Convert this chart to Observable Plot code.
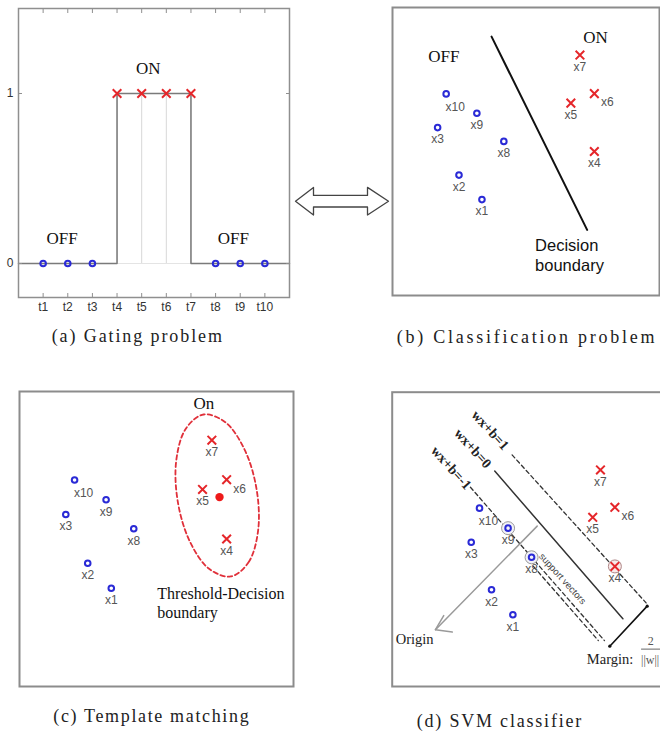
<!DOCTYPE html>
<html><head><meta charset="utf-8">
<script src="https://cdn.jsdelivr.net/npm/d3@7"></script>
<script src="https://cdn.jsdelivr.net/npm/@observablehq/plot@0.6"></script>
<style>
html,body{margin:0;padding:0;background:#fff;overflow:hidden;}
#fig{position:relative;width:660px;height:735px;overflow:hidden;background:#fff;}
.cap{position:absolute;font-family:"Liberation Serif",serif;font-size:18px;line-height:18px;color:#222;white-space:nowrap;}
</style></head><body><div id="fig"></div>
<script>
// ---------- data ----------
// (a) gating problem
const gateTimes = [1,2,3,4,5,6,7,8,9,10];
const gateStates = [0,0,0,1,1,1,1,0,0,0];
const gateTickLabels = ["t1","t2","t3","t4","t5","t6","t7","t8","t9","t10"];
const gateStateTicks = [0,1];
const gateStateLabels = ["0","1"];
const gateSignalT = [0,4,4,7,7,11];
const gateSignalV = [0,0,1,1,0,0];
const gateNoteText = ["OFF","ON","OFF"];
const gateNoteT = [1.77,5.27,8.72];
const gateNoteV = [0.147,1.147,0.147];

// feature-space samples (b, c)
const pointNames = ["x1","x2","x3","x4","x5","x6","x7","x8","x9","x10"];
const pointClass = ["OFF","OFF","OFF","ON","ON","ON","ON","OFF","OFF","OFF"];
const featX = [3.35,2.49,1.69,7.56,6.68,7.56,7.02,4.17,3.16,2.01];
const featY = [3.33,4.18,5.83,5.00,6.68,7.01,8.35,5.35,6.33,7.00];
const labelSide = ["below","below","below","below","below","right","below","below","below","belowright"];

// (b) classification
const boundaryX = [3.71,7.29];
const boundaryY = [8.99,2.28];
const classNoteText = ["OFF","ON"];
const classNoteX = [1.92,7.60];
const classNoteY = [8.30,8.96];
const boundaryText = ["Decision","boundary"];
const boundaryTextX = [5.34,5.34];
const boundaryTextY = [1.74,1.04];

// (c) template matching
const ellipseX = [7.71,8.36,8.71,8.65,8.21,7.51,6.72,6.07,5.72,5.78,6.22,6.92];
const ellipseY = [3.73,4.21,5.30,6.70,8.04,8.96,9.22,8.74,7.65,6.25,4.91,3.99];
const templateX = [7.30];
const templateY = [6.42];
const templText = ["On","Threshold-Decision","boundary"];
const templTextX = [6.73,5.03,5.03];
const templTextY = [9.60,3.14,2.50];

// (d) SVM classifier
const svmX = [4.52,3.72,2.96,8.34,7.51,8.34,7.80,5.22,4.34,3.27];
const svmY = [2.44,3.29,4.90,4.08,5.75,6.09,7.36,4.39,5.38,6.06];
const supportVectors = ["x4","x8","x9"];
const planeNames = ["wx+b=0","wx+b=1","wx+b=-1","sv"];
const planeX1 = [3.84,4.49,2.93,5.29];
const planeY1 = [7.32,7.87,6.77,4.08];
const planeX2 = [8.64,9.51,7.95,7.72];
const planeY2 = [2.30,2.84,1.56,1.56];
const planeLabelX = [3.02,3.67,2.21];
const planeLabelY = [8.09,8.71,7.43];
const originX = [5.43,1.62];
const originY = [5.45,1.93];
const originHeadX = [1.93,1.62,2.25];
const originHeadY = [2.41,1.93,1.85];
const marginX = [9.55,8.15];
const marginY = [2.73,1.37];
const svmNoteText = ["support vectors","Origin","Margin:","2","||w||"];
const svmNoteX = [6.38,0.84,8.16,9.68,9.66];
const svmNoteY = [3.66,1.59,0.92,1.53,0.90];
const fracBarX = [9.34,10.5];
const fracBarY = 1.27;

// double arrow outline
const arrowX = [0,18,18,72,72,93,72,72,18,18];
const arrowY = [0,13.8,5.8,5.8,13.8,0,-13.8,-5.8,-5.8,-13.8];

const captions = ["(a) Gating problem","(b) Classification problem","(c) Template matching","(d) SVM classifier"];

// ---------- style ----------
const BLUE = "#2a2ad6", RED = "#e5262a";
const SERIF = "Liberation Serif, Times New Roman, serif";
const SANS = "Liberation Sans, Arial, sans-serif";
const fig = document.getElementById("fig");
function place(svg, left, top) {
  svg.style.position = "absolute";
  svg.style.left = left + "px";
  svg.style.top = top + "px";
  svg.style.maxWidth = "none";
  fig.appendChild(svg);
}
const baseStyle = {background: "none", fontFamily: SANS, overflow: "visible", color: "#222"};

// ---------- (a) ----------
const gate = gateTimes.map((t, i) => ({t, v: gateStates[i], label: gateTickLabels[i]}));
const signal = gateSignalT.map((t, i) => ({t, v: gateSignalV[i]}));
const gateNotes = gateNoteText.map((s, i) => ({s, t: gateNoteT[i], v: gateNoteV[i]}));
const plotA = Plot.plot({
  width: 300, height: 330, marginLeft: 18, marginRight: 11, marginTop: 8, marginBottom: 33,
  x: {domain: [0, 11], axis: null}, y: {domain: [-0.2, 1.5], axis: null},
  style: baseStyle,
  marks: [
    Plot.ruleX(gate.filter(d => d.v === 1), {x: "t", y1: 0, y2: "v", stroke: "#d8d8d8", strokeWidth: 1}),
    Plot.ruleY([0], {x1: 4, x2: 7, stroke: "#e4e4e4", strokeWidth: 1}),
    Plot.line(signal, {x: "t", y: "v", stroke: "#7a7a7a", strokeWidth: 1.5}),
    Plot.frame({stroke: "#8f8f8f", strokeWidth: 1.5}),
    Plot.axisX({anchor: "bottom", ticks: gateTimes, tickSize: -4, fill: "none", stroke: "#8f8f8f", label: null}),
    Plot.axisX({anchor: "top", ticks: gateTimes, tickSize: -4, fill: "none", stroke: "#8f8f8f", label: null}),
    Plot.axisY({anchor: "left", ticks: gateStateTicks, tickSize: -4, fill: "none", stroke: "#8f8f8f", label: null}),
    Plot.axisY({anchor: "right", ticks: gateStateTicks, tickSize: -4, fill: "none", stroke: "#8f8f8f", label: null}),
    Plot.axisX({anchor: "bottom", ticks: gateTimes, tickSize: 0, tickPadding: 5, fontSize: 12, fill: "#333",
      tickFormat: d => gateTickLabels[gateTimes.indexOf(d)], label: null}),
    Plot.axisY({anchor: "left", ticks: gateStateTicks, tickSize: 0, tickPadding: 5, fontSize: 12, fill: "#333",
      tickFormat: d => gateStateLabels[gateStateTicks.indexOf(d)], label: null}),
    Plot.dot(gate.filter(d => d.v === 0), {x: "t", y: "v", symbol: "circle", r: 2.8, stroke: BLUE, strokeWidth: 2, fill: "none"}),
    Plot.dot(gate.filter(d => d.v === 1), {x: "t", y: "v", symbol: "times", r: 4, stroke: RED, strokeWidth: 2}),
    Plot.text(gateNotes, {x: "t", y: "v", text: "s", fontFamily: SERIF, fontSize: 17, fill: "#111"})
  ]
});
place(plotA, 0, 0);

// shared point builders
function pointsOf(xs, ys) {
  return pointNames.map((name, i) => ({name, cls: pointClass[i], x: xs[i], y: ys[i], side: labelSide[i]}));
}
function pointMarks(pts) {
  const lab = {x: "x", y: "y", text: "name", fontSize: 12, fill: "#555", fontFamily: SANS};
  return [
    Plot.dot(pts.filter(d => d.cls === "OFF"), {x: "x", y: "y", symbol: "circle", r: 2.8, stroke: BLUE, strokeWidth: 2, fill: "none"}),
    Plot.dot(pts.filter(d => d.cls === "ON"), {x: "x", y: "y", symbol: "times", r: 4, stroke: RED, strokeWidth: 2}),
    Plot.text(pts.filter(d => d.side === "below"), {...lab, dy: 12}),
    Plot.text(pts.filter(d => d.side === "right"), {...lab, dx: 13, dy: 9}),
    Plot.text(pts.filter(d => d.side === "belowright"), {...lab, dx: 9, dy: 13})
  ];
}

// ---------- (b) ----------
const ptsB = pointsOf(featX, featY);
const boundary = boundaryX.map((x, i) => ({x, y: boundaryY[i]}));
const classNotes = classNoteText.map((s, i) => ({s, x: classNoteX[i], y: classNoteY[i]}));
const bNotes = boundaryText.map((s, i) => ({s, x: boundaryTextX[i], y: boundaryTextY[i]}));
const plotB = Plot.plot({
  width: 280, height: 320, marginLeft: 12, marginRight: 1, marginTop: 7, marginBottom: 25,
  x: {domain: [0, 10], axis: null}, y: {domain: [0, 10], axis: null},
  style: baseStyle,
  marks: [
    Plot.frame({stroke: "#8c8c8c", strokeWidth: 2}),
    Plot.line(boundary, {x: "x", y: "y", stroke: "#111", strokeWidth: 2}),
    ...pointMarks(ptsB),
    Plot.text(classNotes, {x: "x", y: "y", text: "s", fontFamily: SERIF, fontSize: 17, fill: "#111"}),
    Plot.text(bNotes, {x: "x", y: "y", text: "s", fontFamily: SANS, fontSize: 16.5, fill: "#111", textAnchor: "start"})
  ]
});
place(plotB, 380, 0);

// ---------- (c) ----------
const ptsC = pointsOf(featX, featY);
const ellipse = ellipseX.map((x, i) => ({x, y: ellipseY[i]}));
const template = templateX.map((x, i) => ({x, y: templateY[i]}));
const templNotes = templText.map((s, i) => ({s, x: templTextX[i], y: templTextY[i]}));
const plotC = Plot.plot({
  width: 330, height: 340, marginLeft: 19, marginRight: 37, marginTop: 31, marginBottom: 14,
  x: {domain: [0, 10], axis: null}, y: {domain: [0, 10], axis: null},
  style: baseStyle,
  marks: [
    Plot.frame({stroke: "#8c8c8c", strokeWidth: 2}),
    Plot.line(ellipse, {x: "x", y: "y", curve: "catmull-rom-closed", stroke: "#e0303a", strokeWidth: 1.8, strokeDasharray: "4.5,3"}),
    ...pointMarks(ptsC),
    Plot.dot(template, {x: "x", y: "y", r: 4.2, fill: "#ee1a1a"}),
    Plot.text(templNotes.slice(0, 1), {x: "x", y: "y", text: "s", fontFamily: SERIF, fontSize: 17, fill: "#111"}),
    Plot.text(templNotes.slice(1), {x: "x", y: "y", text: "s", fontFamily: SERIF, fontSize: 16, fill: "#111", textAnchor: "start"})
  ]
});
place(plotC, 0, 360);

// ---------- (d) ----------
const ptsD = pointsOf(svmX, svmY);
const planes = [];
planeNames.forEach((p, i) => {
  planes.push({p, x: planeX1[i], y: planeY1[i]});
  planes.push({p, x: planeX2[i], y: planeY2[i]});
});
const planeLabels = planeNames.slice(0, 3).map((p, i) => ({p, x: planeLabelX[i], y: planeLabelY[i]}));
const originLine = originX.map((x, i) => ({x, y: originY[i]}));
const originHead = originHeadX.map((x, i) => ({x, y: originHeadY[i]}));
const marginLine = marginX.map((x, i) => ({x, y: marginY[i]}));
const svmNotes = svmNoteText.map((s, i) => ({s, x: svmNoteX[i], y: svmNoteY[i]}));
const sv = ptsD.filter(d => supportVectors.includes(d.name));
const plotD = Plot.plot({
  width: 300, height: 360, marginLeft: 11.7, marginRight: 7.95, marginTop: 31.7, marginBottom: 34,
  x: {domain: [0, 10.5], axis: null}, y: {domain: [0, 10], axis: null},
  style: baseStyle,
  marks: [
    Plot.frame({stroke: "#8c8c8c", strokeWidth: 2}),
    Plot.line(originLine, {x: "x", y: "y", stroke: "#9a9a9a", strokeWidth: 1.5}),
    Plot.line(originHead, {x: "x", y: "y", stroke: "#9a9a9a", strokeWidth: 1.5}),
    Plot.line(planes.filter(d => d.p === "wx+b=0"), {x: "x", y: "y", stroke: "#333", strokeWidth: 1.5}),
    Plot.line(planes.filter(d => d.p !== "wx+b=0"), {x: "x", y: "y", z: "p", stroke: "#333", strokeWidth: 1.3, strokeDasharray: "4,3"}),
    Plot.dot(sv.filter(d => d.cls === "OFF"), {x: "x", y: "y", r: 6.5, stroke: "#9a9a9a", strokeWidth: 1, fill: "#f2f2f8"}),
    Plot.dot(sv.filter(d => d.cls === "ON"), {x: "x", y: "y", r: 6.5, stroke: "#b08888", strokeWidth: 1, fill: "#f8e8e8"}),
    ...pointMarks(ptsD),
    Plot.line(marginLine, {x: "x", y: "y", stroke: "#111", strokeWidth: 1.6}),
    Plot.dot(marginLine, {x: "x", y: "y", r: 1.6, fill: "#111"}),
    Plot.text(planeLabels, {x: "x", y: "y", text: "p", rotate: 48, fontFamily: SERIF, fontWeight: "bold", fontSize: 14, fill: "#222"}),
    Plot.text(svmNotes.slice(0, 1), {x: "x", y: "y", text: "s", rotate: 48, fontFamily: SANS, fontSize: 9.5, fill: "#444"}),
    Plot.text(svmNotes.slice(1, 3), {x: "x", y: "y", text: "s", fontFamily: SERIF, fontSize: 14.5, fill: "#222"}),
    Plot.text(svmNotes.slice(3), {x: "x", y: "y", text: "s", fontFamily: SERIF, fontSize: 12, fill: "#555"}),
    Plot.ruleY([fracBarY], {x1: fracBarX[0], x2: fracBarX[1], stroke: "#666", strokeWidth: 1})
  ]
});
place(plotD, 380, 360);

// ---------- double arrow ----------
const arrow = arrowX.map((x, i) => ({x, y: arrowY[i]}));
const plotArrow = Plot.plot({
  width: 120, height: 60, marginLeft: 15, marginRight: 12, marginTop: 16.7, marginBottom: 15.3,
  x: {domain: [0, 93], axis: null}, y: {domain: [-14, 14], axis: null},
  style: baseStyle,
  marks: [
    Plot.line(arrow, {x: "x", y: "y", curve: "linear-closed", stroke: "#444", strokeWidth: 1.3, fill: "white"})
  ]
});
place(plotArrow, 280, 170);

// ---------- captions ----------
const capLeft = [51.7, 396.7, 53.3, 416.7];
const capTop = [327.4, 327.9, 706.9, 711.9];
const capSpacing = [1.9, 2.75, 1.65, 1.8];
captions.forEach((c, i) => {
  const d = document.createElement("div");
  d.className = "cap";
  d.textContent = c;
  d.style.left = capLeft[i] + "px";
  d.style.top = capTop[i] + "px";
  d.style.letterSpacing = capSpacing[i] + "px";
  fig.appendChild(d);
});
</script>
</body></html>
